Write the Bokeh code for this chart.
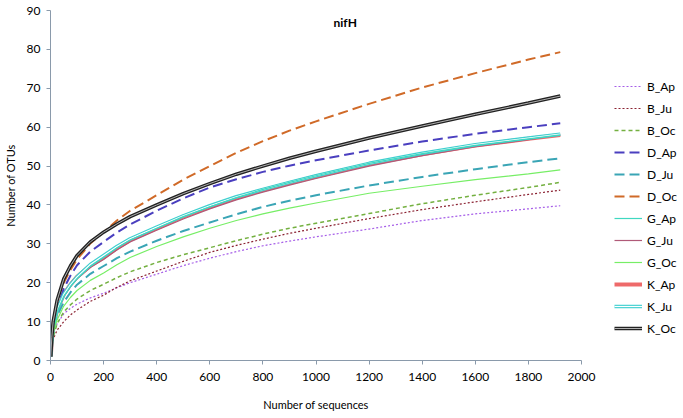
from bokeh.plotting import figure
from bokeh.models import Legend, LegendItem, Label, SingleIntervalTicker, Range1d
from bokeh.embed import file_html
from bokeh.resources import INLINE

x_seq = [1, 5, 10, 25, 50, 75, 100, 150, 200, 250, 300, 400, 500, 600, 700, 800, 900, 1000, 1200, 1400, 1600, 1800, 1920]

B_Ap = [1, 4, 6.5, 9.5, 12, 13.4, 14.5, 16.1, 17.3, 18.7, 20, 22.2, 24.4, 26.3, 28, 29.5, 30.7, 31.8, 33.8, 36, 37.7, 39, 39.8]
B_Ju = [1, 3.3, 5.5, 7.8, 10, 11.7, 13, 15.2, 16.8, 18.8, 20.5, 23, 25.5, 27.8, 29.6, 31.2, 32.7, 34, 36.5, 38.8, 40.8, 42.7, 43.8]
B_Oc = [1, 3.6, 6, 9.5, 12.5, 14.3, 15.8, 18, 19.6, 21.3, 22.8, 25.2, 27.2, 29, 30.8, 32.5, 34, 35.3, 37.8, 40.3, 42.5, 44.5, 45.8]
D_Ap = [1, 5, 8.5, 13.5, 18.5, 21.8, 24.5, 28, 30.5, 32.9, 35, 38.5, 41.7, 44.5, 46.6, 48.5, 50.1, 51.5, 54, 56.3, 58.3, 60, 61]
D_Ju = [1, 4.5, 7.5, 11.5, 15, 17.5, 19.5, 22.3, 24.3, 26.3, 28, 30.8, 33.3, 35.5, 37.6, 39.5, 41.1, 42.5, 45, 47.2, 49.2, 51, 52]
D_Oc = [1, 6.3, 10.5, 15.5, 20, 23.3, 26, 30.1, 33, 36, 38.5, 42.5, 46.5, 50, 53.4, 56.4, 59.1, 61.5, 66, 70.2, 73.9, 77.4, 79.3]
G_Ap = [1, 4.8, 8, 12.5, 16.5, 19, 21, 24.2, 26.5, 28.9, 31, 34, 37, 39.5, 41.9, 44, 45.8, 47.5, 50.7, 53.2, 55.3, 57, 58]
G_Ju = [1, 4.8, 8, 12.5, 16.5, 19, 21, 23.9, 26, 28.4, 30.5, 33.5, 36.4, 39, 41.3, 43.3, 45.1, 46.8, 50, 52.7, 55, 56.8, 58]
G_Oc = [1, 4.2, 7, 10.5, 14, 16.2, 18, 20.6, 22.5, 24.6, 26.5, 29.3, 31.8, 34, 36, 37.7, 39.2, 40.5, 43, 44.8, 46.5, 48, 49]
K_Ap = [1, 5.1, 8.5, 13, 17, 19.5, 21.5, 24.4, 26.5, 28.9, 31, 34, 37, 39.5, 41.8, 43.8, 45.6, 47.3, 50.5, 53, 55.3, 57, 58]
K_Ju = [1, 5.1, 8.5, 13, 17, 19.5, 21.5, 24.7, 27, 29.3, 31.3, 34.3, 37.2, 39.8, 42.1, 44, 45.8, 47.5, 50.7, 53.3, 55.5, 57.2, 58.2]
K_Oc = [1, 6, 10, 15.5, 21, 24.3, 27, 30.5, 33, 35.1, 37, 40, 42.9, 45.5, 47.9, 50, 52, 53.8, 57.2, 60.3, 63.3, 66.2, 68]

names = ["B_Ap", "B_Ju", "B_Oc", "D_Ap", "D_Ju", "D_Oc", "G_Ap", "G_Ju", "G_Oc", "K_Ap", "K_Ju", "K_Oc"]
series = [B_Ap, B_Ju, B_Oc, D_Ap, D_Ju, D_Oc, G_Ap, G_Ju, G_Oc, K_Ap, K_Ju, K_Oc]

FONT = "Lato"
AXIS_COLOR = "#8a9aab"

p = figure(frame_width=531, frame_height=350, output_backend="svg", toolbar_location=None,
           x_range=Range1d(0, 2000), y_range=Range1d(0, 90),
           min_border_left=46, min_border_top=10, min_border_right=90, min_border_bottom=45)
p.outline_line_color = None
p.xgrid.visible = False
p.ygrid.visible = False
p.background_fill_color = "white"

p.xaxis.ticker = SingleIntervalTicker(interval=200)
p.yaxis.ticker = SingleIntervalTicker(interval=10)
for ax in (p.xaxis, p.yaxis):
    ax.axis_line_color = AXIS_COLOR
    ax.major_tick_line_color = AXIS_COLOR
    ax.major_tick_in = 0
    ax.major_tick_out = 4
    ax.minor_tick_line_color = None
    ax.major_label_text_font = FONT
    ax.major_label_text_font_size = "12px"
    ax.major_label_text_color = "black"
    ax.axis_label_text_font = FONT
    ax.axis_label_text_font_size = "11px"
    ax.axis_label_text_font_style = "normal"
    ax.axis_label_text_color = "black"
p.xaxis.axis_label = "Number of sequences"
p.yaxis.axis_label = "Number of OTUs"
p.xaxis.axis_label_standoff = 14
p.yaxis.axis_label_standoff = 7
p.xaxis.major_label_standoff = 8
p.yaxis.major_label_standoff = 6

styles = {
    "B_Ap": [dict(color="#a65ee8", width=1.2, dash="2 2")],
    "B_Ju": [dict(color="#8b2232", width=1.2, dash="2 2")],
    "B_Oc": [dict(color="#74b040", width=1.5, dash="4 3")],
    "D_Ap": [dict(color="#4a3fbf", width=2, dash="10 5")],
    "D_Ju": [dict(color="#3aa5b5", width=2, dash="10 5")],
    "D_Oc": [dict(color="#d06a28", width=2, dash="10 5")],
    "G_Ap": [dict(color="#3fd8c0", width=1.2, dash="solid")],
    "G_Ju": [dict(color="#b05a78", width=1.2, dash="solid")],
    "G_Oc": [dict(color="#77ee66", width=1.2, dash="solid")],
    "K_Ap": [dict(color="#ee6a6a", width=4, dash="solid")],
    "K_Ju": [dict(color="#3fd0d0", width=3.5, dash="solid"), dict(color="white", width=1.2, dash="solid")],
    "K_Oc": [dict(color="#222222", width=3.5, dash="solid"), dict(color="#b0b0b0", width=1, dash="solid")],
}

draw_order = ["K_Ap", "B_Ap", "B_Ju", "B_Oc", "D_Ap", "D_Ju", "D_Oc", "G_Ju", "K_Ju", "G_Ap", "G_Oc", "K_Oc"]
renderers = {}
for nm in draw_order:
    ys = series[names.index(nm)]
    rs = []
    for st in styles[nm]:
        r = p.line(x_seq, ys, line_color=st["color"], line_width=st["width"], line_dash=st["dash"])
        rs.append(r)
    renderers[nm] = rs

items = [LegendItem(label=nm, renderers=renderers[nm]) for nm in names]
legend = Legend(items=items, location=(33, 22), orientation="vertical")
legend.border_line_color = None
legend.background_fill_alpha = 0
legend.padding = 0
legend.margin = 0
legend.spacing = 2
legend.glyph_width = 28
legend.glyph_height = 20
legend.label_height = 20
legend.label_standoff = 5
legend.label_text_font = FONT
legend.label_text_font_size = "12px"
legend.label_text_color = "black"
p.add_layout(legend, "right")

title = Label(x=1110, y=87, text="nifH", text_font=FONT, text_font_size="12px",
              text_font_style="bold", text_align="center", text_baseline="middle", text_color="black")
p.add_layout(title)

open("out.html", "w").write(file_html(p, INLINE))
